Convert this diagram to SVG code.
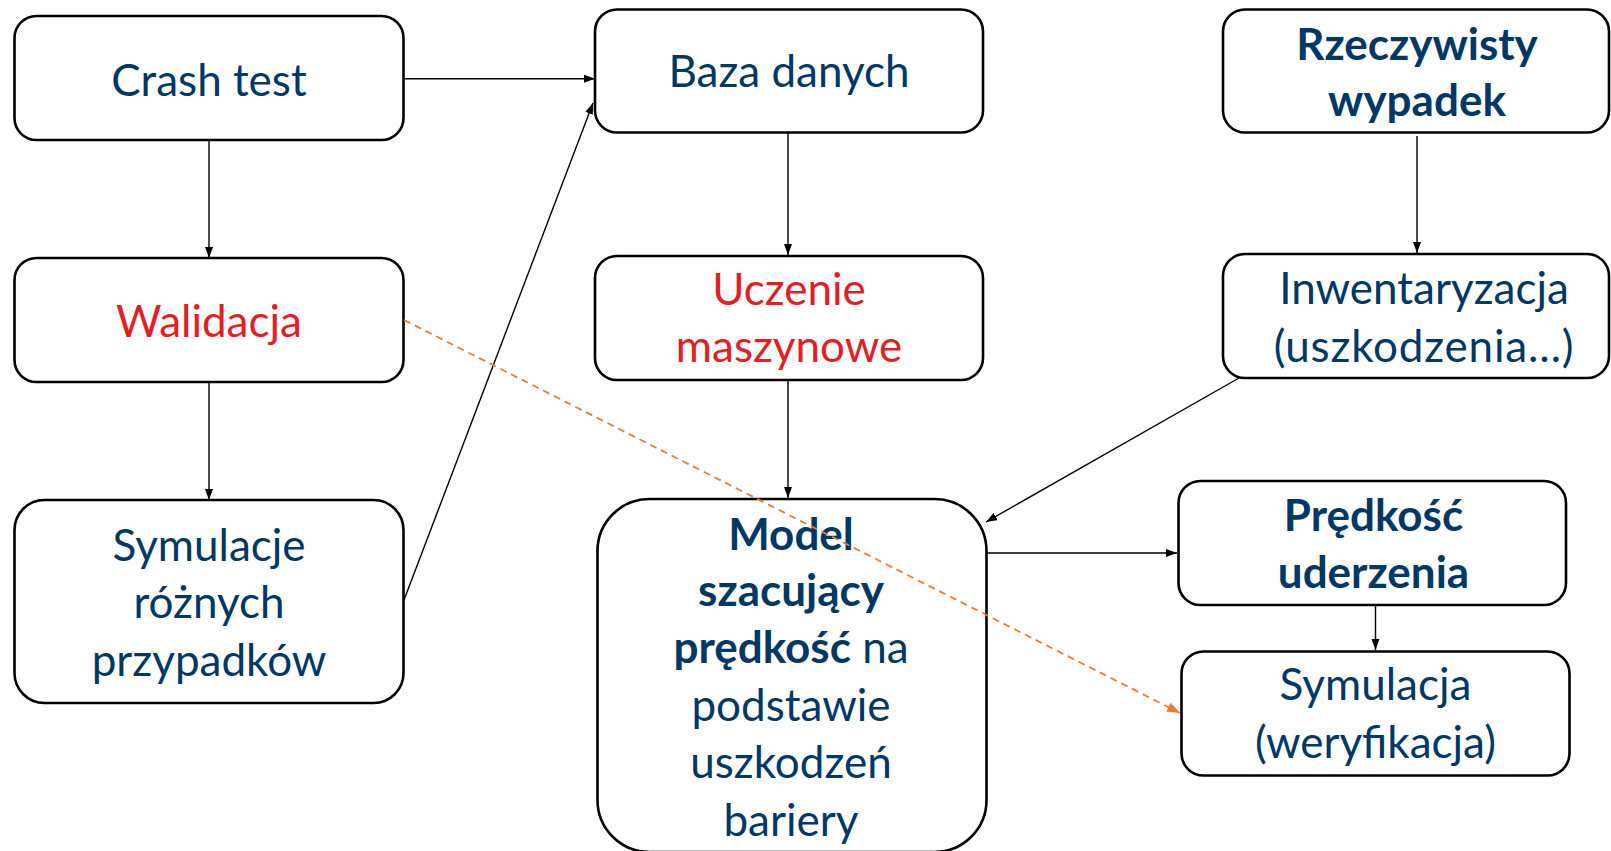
<svg xmlns="http://www.w3.org/2000/svg" width="1611" height="851" viewBox="0 0 1611 851">
<style>
.box{fill:#fff;stroke:#000;stroke-width:2.6}
.t{font-family:Lato,"Open Sans","Liberation Sans",sans-serif;font-size:44px;fill:#003865;text-anchor:middle}
.r{fill:#E31E24}
.b{font-weight:bold}
.c{stroke:#000;stroke-width:1.4;fill:none;marker-end:url(#ah)}
.d{stroke:#ED7D31;stroke-width:1.8;fill:none;stroke-dasharray:7 5;marker-end:url(#ao)}
</style>
<defs>
<marker id="ah" markerUnits="userSpaceOnUse" markerWidth="12" markerHeight="10" refX="11" refY="4" orient="auto"><path d="M0,0 L11,4 L0,8 z" fill="#000"/></marker>
<marker id="ao" markerUnits="userSpaceOnUse" markerWidth="14" markerHeight="12" refX="13" refY="5" orient="auto"><path d="M0,0 L13,5 L0,10 z" fill="#ED7D31"/></marker>
</defs>
<rect width="1611" height="851" fill="#fff"/>
<g id="connectors">
<line class="c" x1="404" y1="78.7" x2="595" y2="78.7"/>
<line class="c" x1="209" y1="140" x2="209" y2="258"/>
<line class="c" x1="209" y1="382" x2="209" y2="500"/>
<line class="c" x1="404" y1="600" x2="593" y2="103"/>
<line class="c" x1="788" y1="133" x2="788" y2="255"/>
<line class="c" x1="788" y1="380" x2="788" y2="498"/>
<line class="c" x1="1417" y1="136" x2="1417" y2="253"/>
<line class="c" x1="1239" y1="378" x2="986" y2="522"/>
<line class="c" x1="987" y1="553" x2="1177" y2="553"/>
<line class="c" x1="1375.5" y1="605" x2="1375.5" y2="650"/>
</g>
<g id="crash"><rect class="box" x="14.5" y="16" width="389" height="124" rx="22"/><text class="t" x="209" y="96">Crash test</text></g>
<g id="walidacja"><rect class="box" x="14.5" y="258" width="389" height="124" rx="22"/><text class="t r" x="209" y="337">Walidacja</text></g>
<g id="symulacje"><rect class="box" x="14.5" y="500" width="389" height="203" rx="30"/><text class="t" x="209" y="561">Symulacje</text><text class="t" x="209" y="618">różnych</text><text class="t" x="209" y="676">przypadków</text></g>
<g id="baza"><rect class="box" x="595" y="9.5" width="388" height="123" rx="22"/><text class="t" x="789" y="87">Baza danych</text></g>
<g id="uczenie"><rect class="box" x="595" y="256" width="388" height="124" rx="22"/><text class="t r" x="789" y="305">Uczenie</text><text class="t r" x="789" y="362">maszynowe</text></g>
<g id="model"><rect class="box" x="597.5" y="499" width="389" height="353" rx="52"/><text class="t b" x="791" y="550">Model</text><text class="t b" x="791" y="606">szacujący</text><text class="t" x="791" y="663"><tspan class="b">prędkość</tspan> na</text><text class="t" x="791" y="721">podstawie</text><text class="t" x="791" y="778">uszkodzeń</text><text class="t" x="791" y="836">bariery</text></g>
<g id="rzeczywisty"><rect class="box" x="1223" y="9.5" width="386" height="123" rx="22"/><text class="t b" x="1417" y="60">Rzeczywisty</text><text class="t b" x="1417" y="116">wypadek</text></g>
<g id="inwentaryzacja"><rect class="box" x="1223" y="254" width="386" height="124" rx="22"/><text class="t" x="1424" y="304">Inwentaryzacja</text><text class="t" x="1424" y="362" letter-spacing="0.8">(uszkodzenia…)</text></g>
<g id="predkosc"><rect class="box" x="1178.5" y="481" width="387.5" height="124" rx="22"/><text class="t b" x="1373.5" y="531">Prędkość</text><text class="t b" x="1373.5" y="588">uderzenia</text></g>
<g id="symulacja"><rect class="box" x="1181.5" y="651.5" width="388" height="124" rx="22"/><text class="t" x="1375.5" y="700">Symulacja</text><text class="t" x="1375.5" y="758">(weryfikacja)</text></g>
<g id="dashed"><line class="d" x1="404" y1="320" x2="1180" y2="713"/></g>
</svg>
